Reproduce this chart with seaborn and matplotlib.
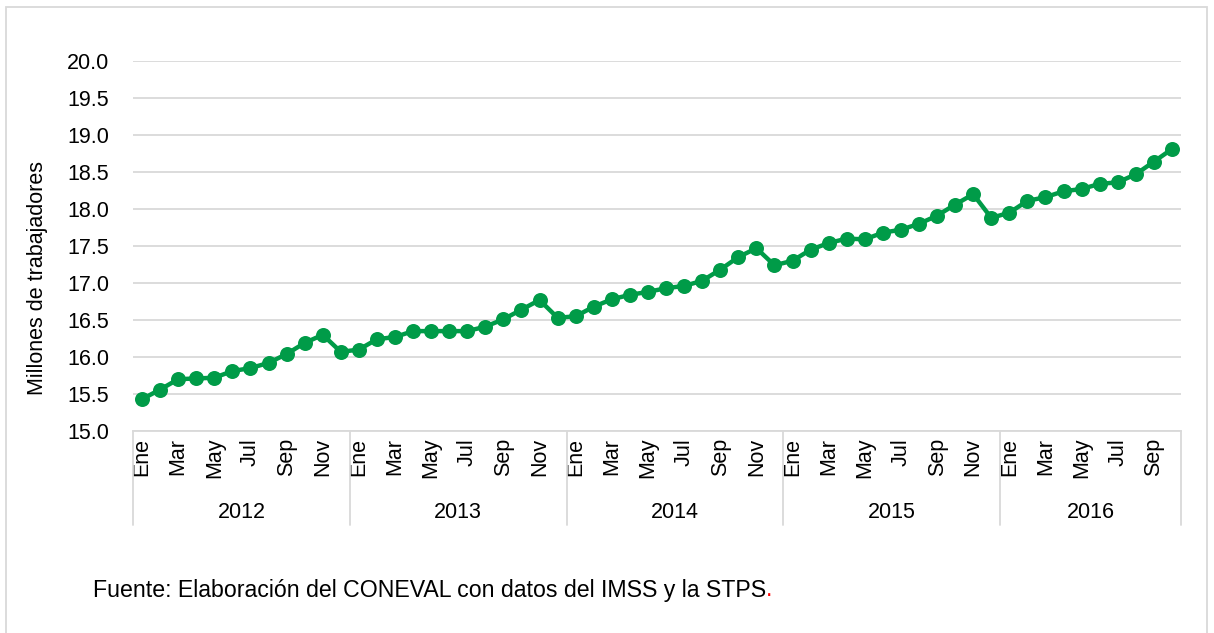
import numpy as np
import pandas as pd
import matplotlib
matplotlib.use("Agg")
import matplotlib.pyplot as plt
import matplotlib.transforms as mtransforms
from matplotlib.patches import Rectangle
import seaborn as sns

# ---------------- data ----------------
years = ["2012", "2013", "2014", "2015", "2016"]
month_names = ["Ene", "Feb", "Mar", "Abr", "May", "Jun",
               "Jul", "Ago", "Sep", "Oct", "Nov", "Dic"]
vals_2012 = [15.43, 15.56, 15.70, 15.71, 15.72, 15.81, 15.85, 15.92, 16.04, 16.19, 16.30, 16.07]
vals_2013 = [16.10, 16.24, 16.27, 16.35, 16.35, 16.35, 16.35, 16.41, 16.51, 16.64, 16.77, 16.53]
vals_2014 = [16.55, 16.68, 16.78, 16.84, 16.88, 16.93, 16.96, 17.03, 17.18, 17.35, 17.47, 17.24]
vals_2015 = [17.30, 17.45, 17.54, 17.60, 17.59, 17.68, 17.72, 17.80, 17.91, 18.06, 18.20, 17.88]
vals_2016 = [17.95, 18.11, 18.16, 18.24, 18.27, 18.34, 18.36, 18.47, 18.64, 18.81]
y_label = "Millones de trabajadores"
source_text = "Fuente: Elaboración del CONEVAL con datos del IMSS y la STPS"

series = [vals_2012, vals_2013, vals_2014, vals_2015, vals_2016]
rows = []
for yr, vals in zip(years, series):
    for m, v in enumerate(vals):
        rows.append({"year": yr, "month": month_names[m], "value": v})
df = pd.DataFrame(rows)
df["idx"] = np.arange(len(df))

# ---------------- style ----------------
sns.set_style("white")
plt.rcParams["font.family"] = ["Liberation Sans", "DejaVu Sans"]
plt.rcParams["text.color"] = "#000000"
plt.rcParams["axes.labelcolor"] = "#000000"
plt.rcParams["xtick.color"] = "#000000"
plt.rcParams["ytick.color"] = "#000000"

FS = 15.5
W, H, DPI = 1214, 633, 100
fig = plt.figure(figsize=(W / DPI, H / DPI), dpi=DPI)
ax_left, ax_right, ax_top, ax_bottom = 133, 1181, 61, 431
ax = fig.add_axes([ax_left / W, 1 - ax_bottom / H,
                   (ax_right - ax_left) / W, (ax_bottom - ax_top) / H])

green = "#009B48"
grid_c = "#D9D9D9"
sns.lineplot(data=df, x="idx", y="value", ax=ax, color=green, linewidth=3.2,
             marker="o", markersize=10.8, markeredgewidth=0, markeredgecolor=green,
             zorder=3)

ax.set_ylim(15.0, 20.0)
ax.set_yticks(np.arange(15.0, 20.01, 0.5))
ax.set_yticklabels([f"{v:.1f}" for v in np.arange(15.0, 20.01, 0.5)], fontsize=FS)
ax.set_xlim(-0.5, len(df) - 0.5)
ax.yaxis.grid(True, color=grid_c, linewidth=1.3)
ax.set_axisbelow(True)
ax.tick_params(axis="y", length=0, pad=17)
for s in ["left", "right", "top"]:
    ax.spines[s].set_visible(False)
ax.spines["bottom"].set_color(grid_c)
ax.spines["bottom"].set_linewidth(1.3)

# month tick labels: every other month
tick_pos = df.index[df["month"].isin(["Ene", "Mar", "May", "Jul", "Sep", "Nov"])]
ax.set_xticks(df.loc[tick_pos, "idx"])
ax.set_xticklabels(df.loc[tick_pos, "month"], rotation=90, fontsize=FS, va="top")
ax.tick_params(axis="x", length=0, pad=5)
ax.set_xlabel("")
ax.set_ylabel("")
# y-axis title (placed as in the reference, slightly below the axes centre)
fig.text(38 / W, 1 - 278 / H, y_label, fontsize=FS, rotation=90,
         ha="center", va="center")

# year groups
trans = mtransforms.blended_transform_factory(ax.transData, ax.transAxes)
ah = ax_bottom - ax_top
y_year = -(512 - ax_bottom) / ah
y_sep = -(525 - ax_bottom) / ah
start = 0
bounds = [-0.5]
for yr, vals in zip(years, series):
    n = len(vals)
    ax.text(start + (n - 1) / 2, y_year, yr, transform=trans, ha="center",
            va="center", fontsize=FS)
    start += n
    bounds.append(start - 0.5)
for b in bounds:
    ax.plot([b, b], [0, y_sep], transform=trans, color=grid_c, lw=1.3,
            clip_on=False, zorder=1)

# source note with red final period
t = fig.text(93 / W, 1 - 590 / H, source_text, fontsize=16.7, va="center", ha="left")
fig.canvas.draw()
bb = t.get_window_extent()
fig.text(bb.x1 / W, 1 - 590 / H, ".", fontsize=16.7, va="center", ha="left", color="#FF0000")

# outer border
fig.patches.append(Rectangle((6 / W, -0.05), (1207 - 6) / W, 1 - 7 / H + 0.05,
                             transform=fig.transFigure, fill=False,
                             edgecolor="#D9D9D9", linewidth=1.3))

fig.savefig("out.png", dpi=DPI)
